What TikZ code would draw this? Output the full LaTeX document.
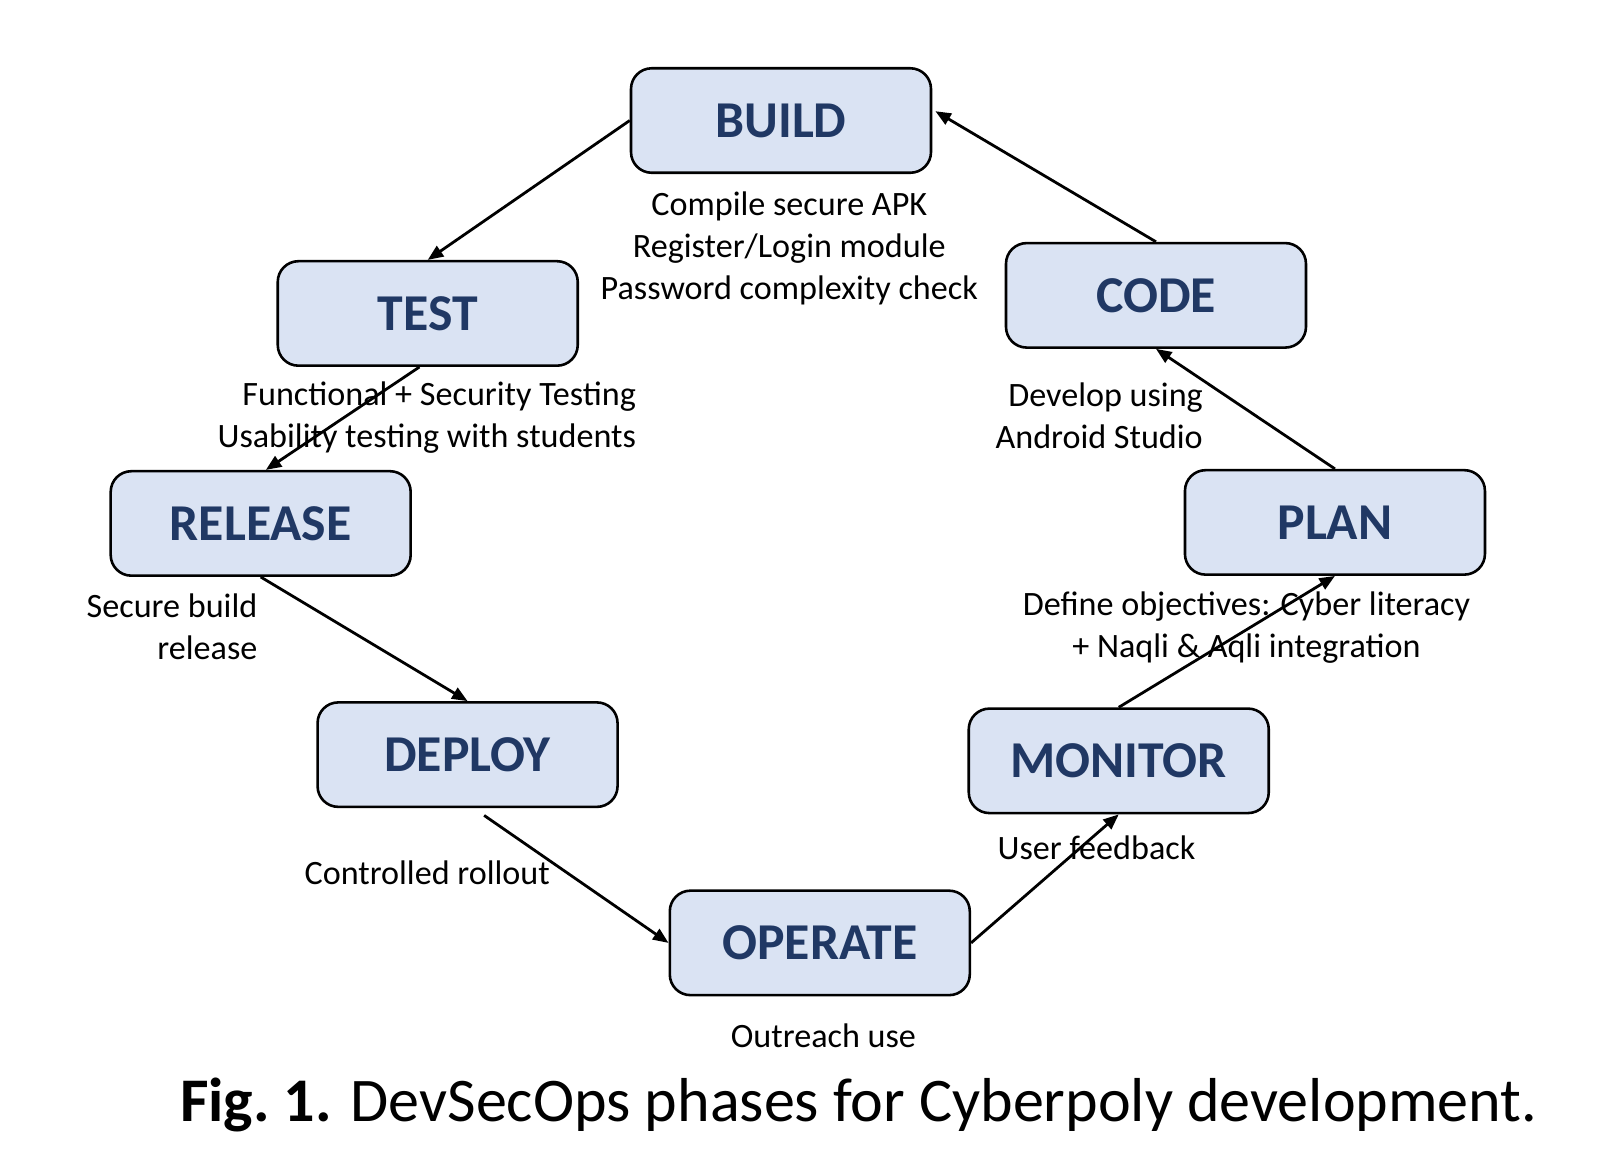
\documentclass[tikz,border=0pt]{standalone}
\usepackage{fontspec}
\setmainfont{Carlito}
\usepackage{xcolor}
\usepackage{tikz}
\usetikzlibrary{arrows.meta}
\definecolor{phasefill}{HTML}{DAE3F3}
\definecolor{phasetext}{HTML}{203864}

\begin{document}
\begin{tikzpicture}[x=1pt, y=-1pt,
	phase/.style={draw, line width=2.5pt, fill=phasefill, rounded corners=20pt, minimum width=290pt, minimum height=101pt, text=phasetext, font=\fontsize{50}{60}\selectfont\bfseries},
	note/.style={inner sep=0pt, font=\fontsize{33}{40.5}\selectfont},
	flow/.style={line width=2.7pt, -{Triangle[length=15pt,width=12pt]}}]
	\useasboundingbox (0,0) rectangle (1568,1133);
	% phases
	\node[phase] (build) at (755,116.5) {BUILD};
	\node[phase] (test) at (413.5,303) {TEST};
	\node[phase] (code) at (1117.5,285.5) {CODE};
	\node[phase] (release) at (252,506) {RELEASE};
	\node[phase] (plan) at (1290.5,505) {PLAN};
	\node[phase] (deploy) at (452,729.5) {DEPLOY};
	\node[phase] (monitor) at (1081.5,735.5) {MONITOR};
	\node[phase] (operate) at (792.5,911.5) {OPERATE};
	% notes
	\node[note, align=center] (buildnote) at (763,240.5) {Compile secure APK\\Register/Login module\\Password complexity check};
	\node[note, align=right, anchor=east] (testnote) at (615,404) {Functional + Security Testing\\Usability testing with students};
	\node[note, align=right, anchor=east] (codenote) at (1163,401.5) {Develop using\\Android Studio};
	\node[note, align=right, anchor=east] (releasenote) at (249,605.5) {Secure build\\release};
	\node[note, align=center] (plannote) at (1205,607) {Define objectives: Cyber literacy\\+ Naqli \& Aqli integration};
	\node[note, anchor=base] (deploynote) at (413,855) {Controlled rollout};
	\node[note, anchor=base] (monitornote) at (1060,831) {User feedback};
	\node[note, anchor=base] (operatenote) at (796,1013) {Outreach use};
	% cycle
	\draw[flow] (build.west) -- (test.north);
	\draw[flow] ([xshift=-8pt]test.south) -- ([xshift=5pt]release.north);
	\draw[flow] (release.south) -- (deploy.north);
	\draw[flow] ([xshift=16pt,yshift=-7pt]deploy.south) -- (operate.west);
	\draw[flow] (operate.east) -- (monitor.south);
	\draw[flow] (monitor.north) -- (plan.south);
	\draw[flow] (plan.north) -- (code.south);
	\draw[flow] (code.north) -- ([xshift=3pt,yshift=9pt]build.east);
	% caption
	\node[anchor=base west, inner sep=0pt, font=\fontsize{60}{72}\selectfont] (caption) at (174,1084.5) {{\bfseries Fig.\ 1.} DevSecOps phases for Cyberpoly development.};
\end{tikzpicture}
\end{document}
